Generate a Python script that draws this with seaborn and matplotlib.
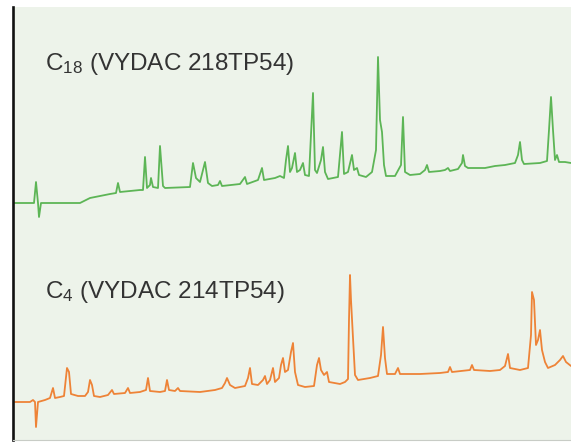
import matplotlib.pyplot as plt
import pandas as pd
import seaborn as sns

# (retention, signal) pairs, arbitrary units,
# signal measured from each trace's starting baseline
c18_trace = [
    (0, 0), (17, 0), (21, 0), (23, 21), (25, 0), (26, -14), (28, 0), (67, 0),
    (77, 5), (97, 9), (103, 10), (105, 20), (107, 11), (127, 13), (130, 13),
    (132, 46), (134, 15), (137, 18), (138, 25), (140, 16), (145, 15), (147, 57),
    (150, 17), (152, 15), (177, 16), (180, 40), (183, 25), (187, 21), (192, 41),
    (195, 20), (199, 17), (205, 18), (207, 22), (209, 17), (227, 19), (232, 26),
    (234, 19), (245, 23), (249, 35), (251, 23), (262, 25), (267, 27), (271, 25),
    (273, 43), (275, 57), (277, 31), (279, 35), (282, 50), (284, 31), (287, 33),
    (290, 40), (292, 28), (296, 27), (300, 110), (302, 33), (304, 30), (308, 43),
    (310, 56), (312, 31), (315, 24), (325, 26), (329, 71), (331, 29), (335, 31),
    (339, 48), (341, 33), (344, 35), (346, 28), (353, 26), (359, 31), (363, 53),
    (365, 146), (367, 83), (369, 71), (371, 38), (373, 27), (382, 27), (388, 38),
    (390, 86), (392, 31), (397, 28), (407, 29), (412, 33), (414, 38), (416, 31),
    (427, 32), (432, 33), (435, 35), (437, 32), (445, 34), (449, 40), (450, 48),
    (452, 37), (455, 35), (472, 35), (482, 37), (492, 38), (502, 40), (505, 48),
    (507, 61), (509, 43), (511, 39), (527, 40), (534, 42), (536, 73), (538, 106),
    (540, 73), (542, 43), (544, 48), (546, 41), (552, 41), (558, 40),
]

c4_trace = [
    (0, 0), (17, 0), (20, 2), (22, 0), (23, -25), (25, 0), (32, 2), (37, 4),
    (40, 14), (42, 4), (47, 5), (51, 6), (54, 34), (56, 30), (58, 8), (65, 6),
    (72, 6), (75, 10), (77, 22), (79, 17), (81, 6), (87, 5), (95, 7), (99, 12),
    (101, 8), (112, 9), (115, 14), (117, 9), (127, 10), (133, 12), (135, 24),
    (137, 11), (147, 10), (152, 11), (154, 22), (156, 12), (162, 11), (165, 14),
    (167, 11), (187, 10), (202, 12), (209, 14), (212, 19), (214, 24), (217, 17),
    (222, 14), (232, 16), (235, 24), (237, 34), (239, 18), (245, 17), (250, 22),
    (252, 26), (254, 18), (257, 22), (260, 34), (262, 20), (266, 24), (268, 37),
    (270, 44), (272, 30), (275, 32), (278, 50), (280, 59), (282, 30), (285, 17),
    (292, 15), (301, 16), (304, 37), (306, 44), (308, 32), (311, 27), (314, 30),
    (316, 20), (327, 18), (332, 20), (335, 23), (336, 82), (337, 127), (338, 102),
    (340, 64), (342, 27), (345, 22), (357, 24), (365, 26), (368, 47), (370, 75),
    (372, 44), (374, 28), (382, 28), (385, 34), (387, 28), (407, 28), (427, 29),
    (435, 30), (437, 35), (439, 30), (457, 32), (459, 37), (461, 32), (477, 31),
    (487, 32), (492, 36), (495, 48), (497, 34), (507, 32), (515, 34), (518, 67),
    (519, 110), (521, 102), (523, 57), (525, 62), (527, 72), (529, 52), (532, 40),
    (535, 34), (542, 37), (547, 42), (550, 46), (553, 40), (558, 36),
]

columns = ["C$_{18}$ (VYDAC 218TP54)", "C$_{4}$ (VYDAC 214TP54)"]
trace_offsets = [237, 38]
label_levels = [370, 142]
trace_colors = ["#5db556", "#ee8337"]


def main():
    sns.set_theme(style="white")
    plt.rcParams["font.family"] = ["Liberation Sans", "DejaVu Sans"]
    plt.rcParams["mathtext.default"] = "regular"

    frames = []
    for name, trace, off in zip(columns, [c18_trace, c4_trace], trace_offsets):
        part = pd.DataFrame(trace, columns=["time", "signal"])
        part["level"] = part["signal"] + off
        part["column"] = name
        frames.append(part)
    df = pd.concat(frames, ignore_index=True)

    fig = plt.figure(figsize=(5.71, 4.42), dpi=100)
    ax = fig.add_axes([13 / 571, 2 / 442, 558 / 571, 433 / 442])
    ax.set_facecolor("#edf3ea")

    sns.lineplot(
        data=df,
        x="time",
        y="level",
        hue="column",
        palette=dict(zip(columns, trace_colors)),
        sort=False,
        estimator=None,
        linewidth=1.3,
        legend=False,
        ax=ax,
    )

    for name, level in zip(columns, label_levels):
        ax.text(32, level, name, fontsize=17.5, color="#333333", va="baseline")

    ax.set_xlim(0, 558)
    ax.set_ylim(0, 433)
    ax.set_xticks([])
    ax.set_yticks([])
    ax.set_xlabel("")
    ax.set_ylabel("")
    for side in ["top", "right"]:
        ax.spines[side].set_visible(False)
    ax.spines["left"].set_color("#111111")
    ax.spines["left"].set_linewidth(1.9)
    ax.spines["bottom"].set_color("#c8ccc6")
    ax.spines["bottom"].set_linewidth(0.8)

    fig.savefig("out.png", dpi=100)
    plt.close(fig)


if __name__ == "__main__":
    main()
